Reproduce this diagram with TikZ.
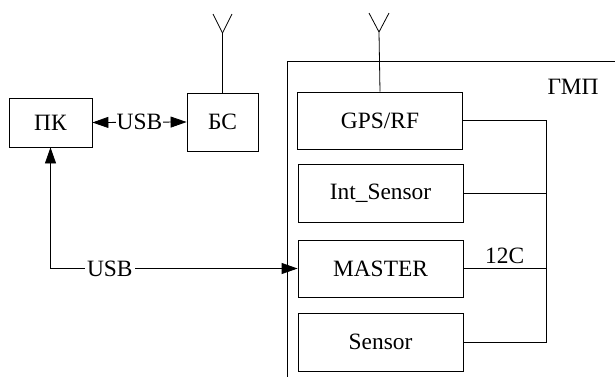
\documentclass[tikz,border=0pt]{standalone}
\usepackage{tikz}
\usepackage{fontspec}
\setmainfont{Liberation Serif}
\usetikzlibrary{arrows.meta}
\usetikzlibrary{positioning}
\usetikzlibrary{calc}

\begin{document}
\begin{tikzpicture}[x=1bp, y=-1bp, line width=0.8bp,
		every node/.style={font=\fontsize{23.5}{26}\selectfont},
		block/.style={draw, rectangle, inner sep=0pt},
		unit/.style={block, minimum width=165bp, minimum height=57bp},
		link/.style={{Triangle[length=16bp,width=11bp]}-{Triangle[length=16bp,width=11bp]}},
		tag/.style={fill=white, inner sep=2bp}]
			\useasboundingbox (0,0) rectangle (615,377);
			
			% PC and base station
			\node[block, minimum width=83bp, minimum height=49bp] (pk) at (50.5,122.5) {ПК};
			\node[block, minimum width=71bp, minimum height=58bp] (bs) at (222.5,122) {БС};
			\draw[link] (pk.east) -- node[tag, inner sep=1bp] {USB} (bs.west);
			
			% antenna of the base station
			\draw (bs.north) -- (222.5,33) coordinate (bsant);
			\draw (bsant) -- ++(-9.5,-19);
			\draw (bsant) -- ++(9.5,-19);
			
			% module frame
			\draw (615,61) -| (287,377);
			\node (gmp) at (573,87) {ГМП};
			
			% blocks inside the module
			\node[unit] (gps) at (380,120.5) {GPS/RF};
			\node[unit, minimum height=58bp] (int) at (380.5,193) {Int\_Sensor};
			\node[unit] (mst) at (380.5,268.5) {MASTER};
			\node[unit, minimum height=58bp] (sns) at (380.5,342) {Sensor};
			
			% antenna of the GPS receiver
			\draw (gps.north) -- (379,32) coordinate (gpsant);
			\draw (gpsant) -- ++(-10,-19);
			\draw (gpsant) -- ++(10,-19);
			
			% 12C bus
			\coordinate (bus) at (546,0);
			\draw (gps.east) -| (bus |- sns.east) -- (sns.east);
			\draw (int.east) -- (int.east -| bus);
			\draw (mst.east) -- node[above=1bp] {12C} (mst.east -| bus);
			
			% USB from the PC to the master
			\draw[link] (pk.south) |- node[tag, pos=0.62] {USB} (mst.west);
		\end{tikzpicture}
\end{document}
